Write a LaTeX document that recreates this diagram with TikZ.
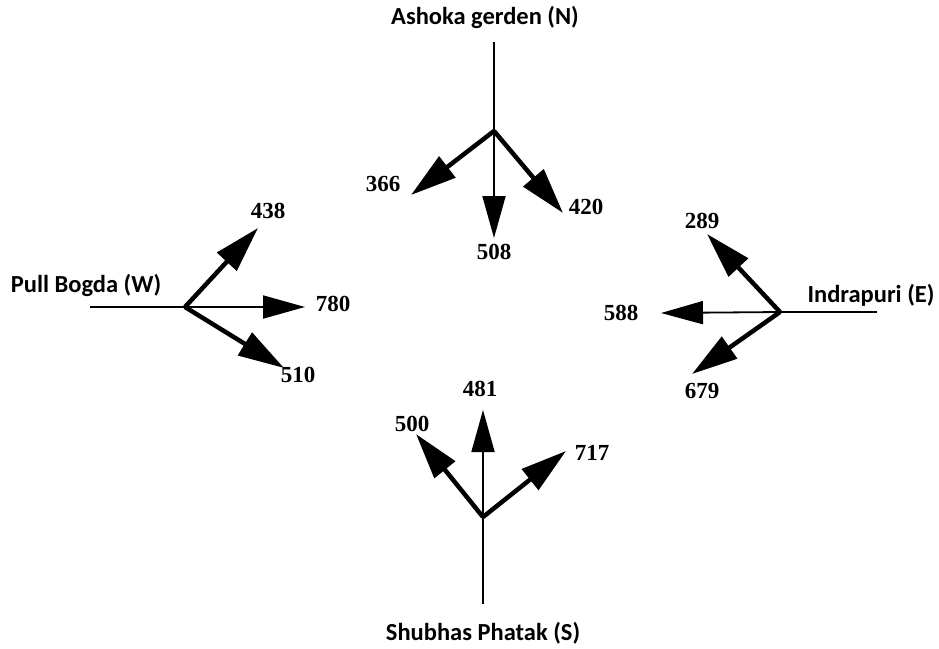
\documentclass[tikz,border=0pt]{standalone}
\usepackage{fontspec}
\setmainfont{Liberation Serif}
\newfontfamily\labfont{Carlito}
\usetikzlibrary{arrows.meta}
\begin{document}
\begin{tikzpicture}[x=1pt,y=-1pt,
  trunk/.style={line width=1.8pt},
  flow/.style={line width=1.8pt,-{Triangle[length=42pt,width=23pt]}},
  dflow/.style={line width=4.5pt,-{Triangle[length=46pt,width=26pt]}},
  place/.style={font=\labfont\bfseries\fontsize{24.5}{28}\selectfont,inner sep=0pt},
  num/.style={font=\bfseries\fontsize{23}{27}\selectfont,inner sep=0pt}]
\useasboundingbox (0,0) rectangle (939,648);
% North
\coordinate (nj) at (494,131);
\coordinate (ntop) at (494,42);
\coordinate (n366) at (411,195);
\coordinate (n508) at (494,238);
\coordinate (n420) at (563,213);
\node[place] (ntitle) at (485,17) {Ashoka gerden (N)};
\node[num] (l366) at (383,184) {366};
\node[num] (l508) at (494,252) {508};
\node[num] (l420) at (586,207) {420};
\draw[trunk] (ntop) -- (nj);
\draw[flow] (nj) -- (n508);
\draw[dflow] (nj) -- (n366);
\draw[dflow] (nj) -- (n420);
% West
\coordinate (wj) at (185,307);
\coordinate (wleft) at (90,307);
\coordinate (w438) at (258,228);
\coordinate (w780) at (305,307);
\coordinate (w510) at (284,368);
\node[place] (wtitle) at (86,285) {Pull Bogda (W)};
\node[num] (l438) at (268,211) {438};
\node[num] (l780) at (333,304) {780};
\node[num] (l510) at (298,375) {510};
\draw[trunk] (wleft) -- (wj);
\draw[flow] (wj) -- (w780);
\draw[dflow] (wj) -- (w438);
\draw[dflow] (wj) -- (w510);
% East
\coordinate (ej) at (780,312);
\coordinate (eright) at (877,312);
\coordinate (e289) at (707,234);
\coordinate (e588) at (661,313);
\coordinate (e679) at (692,374);
\node[place] (etitle) at (871,295) {Indrapuri (E)};
\node[num] (l289) at (702,221) {289};
\node[num] (l588) at (621,313) {588};
\node[num] (l679) at (702,391) {679};
\draw[trunk] (eright) -- (ej);
\draw[flow] (ej) -- (e588);
\draw[dflow] (ej) -- (e289);
\draw[dflow] (ej) -- (e679);
% South
\coordinate (sj) at (483,517);
\coordinate (sbot) at (483,604);
\coordinate (s500) at (416,434);
\coordinate (s481) at (483,410);
\coordinate (s717) at (566,451);
\node[place] (stitle) at (483,633) {Shubhas Phatak (S)};
\node[num] (l500) at (412,424) {500};
\node[num] (l481) at (480,389) {481};
\node[num] (l717) at (592,453) {717};
\draw[trunk] (sbot) -- (sj);
\draw[flow] (sj) -- (s481);
\draw[dflow] (sj) -- (s500);
\draw[dflow] (sj) -- (s717);
\end{tikzpicture}
\end{document}
